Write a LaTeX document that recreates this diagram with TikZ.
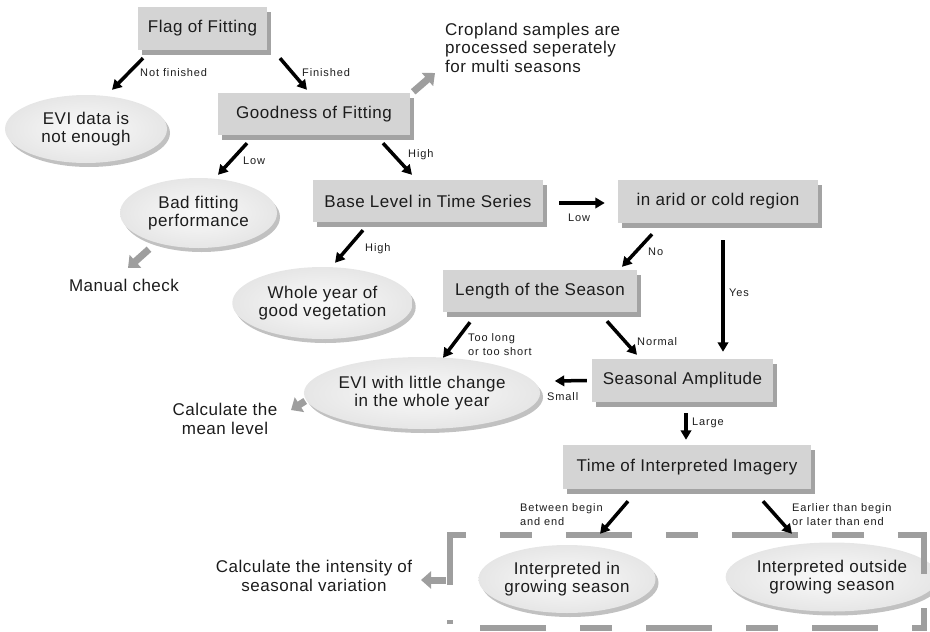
\documentclass[tikz,border=0pt]{standalone}
\usepackage{fontspec}
\setmainfont{Liberation Sans}[LetterSpace=3]
\newfontfamily\lblfont{Liberation Sans}[LetterSpace=8]
\usetikzlibrary{arrows.meta,shapes.geometric,shadows}
\definecolor{boxGray}{HTML}{D4D4D4}
\definecolor{ellGray}{HTML}{E6E6E6}
\definecolor{txtGray}{HTML}{1C1C1C}
\definecolor{hintGray}{HTML}{9E9E9E}
\tikzset{
  % Decision steps: flat grey boxes with a hard shadow.
  dec/.style={
    fill=boxGray, inner sep=0pt, align=center, font=\fontsize{17}{18.5}\selectfont,
    text=txtGray,
    drop shadow={shadow xshift=4pt, shadow yshift=-5pt, fill=gray!80, opacity=0.9}
  },
  % Outcomes: light ellipses, lit from the upper left.
  res/.style={
    ellipse, inner sep=0pt, align=center,
    inner color=gray!4, outer color=ellGray,
    font=\fontsize{17}{18.5}\selectfont, text=txtGray,
    drop shadow={shadow xshift=3pt, shadow yshift=-4pt, fill=gray!60, opacity=0.8}
  },
  % Follow-up actions: plain text.
  note/.style={inner sep=0pt, align=center, font=\fontsize{17}{18.5}\selectfont, text=txtGray},
  % Branch labels.
  lbl/.style={inner sep=0pt, align=left, anchor=west,
    font=\lblfont\fontsize{11}{14}\selectfont, text=txtGray},
  arr/.style={-{Triangle[length=9.5pt,width=10.5pt]}, line width=3.5pt, draw=black},
  hint/.style={-{Triangle[length=10pt,width=17pt]}, line width=7pt, draw=hintGray},
  frame/.style={draw=hintGray, line width=6pt,
    dash pattern=on 66pt off 34pt on 32pt off 34pt}
}
\begin{document}
\begin{tikzpicture}[x=1pt, y=-1pt]
\useasboundingbox (0,0) rectangle (930,632);

% decision boxes
\node[dec, minimum width=129pt, minimum height=43pt] (flag) at (202.5,28.5) {Flag of Fitting};
\node[dec, minimum width=192pt, minimum height=42pt] (good) at (314,114) {Goodness of Fitting};
\node[dec, minimum width=230pt, minimum height=42pt] (base) at (428,201) {Base Level in Time Series};
\node[dec, minimum width=200pt, minimum height=43pt] (arid) at (718,201.5) {in arid or cold region};
\node[dec, minimum width=194pt, minimum height=42pt] (len) at (540,291) {Length of the Season};
\node[dec, minimum width=181pt, minimum height=43pt] (amp) at (682.5,380.5) {Seasonal Amplitude};
\node[dec, minimum width=248pt, minimum height=44pt] (time) at (687,467) {Time of Interpreted Imagery};

% outcomes
\node[res, minimum width=162pt, minimum height=68pt] (evi) at (86,129) {EVI data is\\not enough};
\node[res, minimum width=157pt, minimum height=70pt] (bad) at (198.5,213) {Bad fitting\\performance};
\node[res, minimum width=159pt, minimum height=72pt] (whole) at (322.5,303) {Whole year of\\good vegetation};
\node[res, minimum width=211pt, minimum height=72pt] (little) at (422,393) {EVI with little change\\in the whole year};
\node[res, minimum width=160pt, minimum height=68pt] (ingrow) at (567,579) {Interpreted in\\growing season};
\node[res, minimum width=175pt, minimum height=69pt] (outgrow) at (832,577) {Interpreted outside\\growing season};

% follow-up notes
\node[note, align=left, anchor=west] (crop) at (445,47.5)
  {Cropland samples are\\processed seperately\\for multi seasons};
\node[note] (manual) at (124,285) {Manual check};
\node[note] (mean) at (225,419) {Calculate the\\mean level};
\node[note] (intens) at (314,576) {Calculate the intensity of\\seasonal variation};

% dashed group round the two last outcomes
\node[minimum width=474pt, minimum height=93pt, inner sep=0pt] (frm) at (687,581.5) {};
\draw[frame] ([yshift=-50pt]frm.north west) -- (frm.north west) -- (frm.north east)
  -- (frm.south east) -- (frm.south west) -- ([yshift=8pt]frm.south west);

% branches
\draw[arr] ([xshift=-59.5pt,yshift=-8pt]flag.south) -- ([xshift=26pt,yshift=5pt]evi.north);
\draw[arr] ([xshift=77.5pt,yshift=-8pt]flag.south) -- ([xshift=-7pt,yshift=3pt]good.north);
\draw[arr] ([xshift=-67pt,yshift=-8pt]good.south) -- ([xshift=19.5pt,yshift=3pt]bad.north);
\draw[arr] ([xshift=69pt,yshift=-8pt]good.south) -- ([xshift=-16pt,yshift=5pt]base.north);
\draw[arr] ([xshift=-65pt,yshift=-8pt]base.south) -- ([xshift=12.5pt,yshift=4pt]whole.north);
\draw[arr] ([xshift=16pt,yshift=-2pt]base.east) -- ([xshift=-13pt,yshift=-1.5pt]arid.west);
\draw[arr] ([xshift=-66pt,yshift=-11pt]arid.south) -- ([xshift=82pt,yshift=3pt]len.north);
\draw[arr] ([xshift=5pt,yshift=-17pt]arid.south) -- ([xshift=40.5pt,yshift=7pt]amp.north);
\draw[arr] ([xshift=-70pt,yshift=-10pt]len.south) -- ([xshift=21pt,yshift=-1pt]little.north);
\draw[arr] ([xshift=67pt,yshift=-9pt]len.south) -- ([xshift=-45.5pt,yshift=4pt]amp.north);
\draw[arr] ([xshift=-5pt]amp.west) -- ([xshift=14.5pt,yshift=12pt]little.east);
\draw[arr] ([xshift=3.5pt,yshift=-11pt]amp.south) -- ([xshift=-1pt,yshift=5pt]time.north);
\draw[arr] ([xshift=-59pt,yshift=-12pt]time.south) -- ([xshift=33pt,yshift=11pt]ingrow.north);
\draw[arr] ([xshift=76pt,yshift=-12pt]time.south) -- ([xshift=-40pt,yshift=8.5pt]outgrow.north);

% branch labels
\node[lbl] (lnf) at (140,73) {Not finished};
\node[lbl] (lfi) at (302,73) {Finished};
\node[lbl] (llo) at (243,161) {Low};
\node[lbl] (lhi) at (408,155) {High};
\node[lbl] (lhb) at (365,249) {High};
\node[lbl] (llb) at (568,218) {Low};
\node[lbl] (lno) at (648,252) {No};
\node[lbl] (lye) at (729,293) {Yes};
\node[lbl] (ltl) at (468,345) {Too long\\or too short};
\node[lbl] (lnm) at (637,342) {Normal};
\node[lbl] (lsm) at (547,397) {Small};
\node[lbl] (lla) at (692,423) {Large};
\node[lbl] (lbe) at (520,515) {Between begin\\and end};
\node[lbl] (lea) at (792,515) {Earlier than begin\\or later than end};

% grey hints to the follow-up notes
\draw[hint] ([xshift=3pt,yshift=1pt]good.north east) -- ([xshift=-10pt,yshift=-25.5pt]crop.west);
\draw[hint] ([xshift=-49.5pt,yshift=-1pt]bad.south) -- ([xshift=4pt,yshift=17pt]manual.center);
\draw[hint] ([xshift=1.5pt,yshift=-8pt]little.west) -- ([xshift=66pt,yshift=9pt]mean.center);
\draw[hint] ([xshift=-4pt,yshift=1.5pt]frm.west) -- ([xshift=107pt,yshift=-4pt]intens.center);
\end{tikzpicture}
\end{document}
